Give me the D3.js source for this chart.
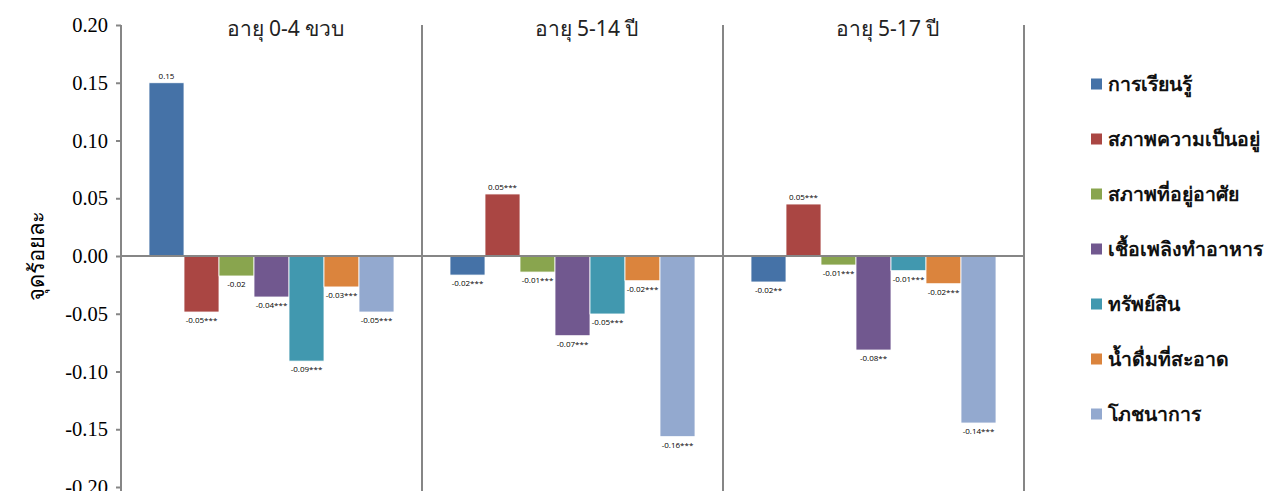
<!DOCTYPE html>
<meta charset="utf-8">
<style>
body { margin: 0; background: #fff; }
.axis path, .axis line { stroke: #868686; stroke-width: 2px; }
.axis text { font-family: "Liberation Serif", serif; font-size: 20.5px; fill: #000; }
.lbl { font-family: "Open Sans", sans-serif; font-size: 8px; fill: #000; }
.ptitle { font-family: "Noto Sans", "DejaVu Sans", sans-serif; font-size: 21px; fill: #222; }
.legend text { font-family: "Noto Sans", "DejaVu Sans", sans-serif; font-size: 19.5px; fill: #111; font-weight: bold; }
</style>
<svg width="1274" height="491"></svg>
<script src="https://d3js.org/d3.v7.min.js"></script>
<script>

var categories = ["การเรียนรู้", "สภาพความเป็นอยู่", "สภาพที่อยู่อาศัย", "เชื้อเพลิงทำอาหาร", "ทรัพย์สิน", "น้ำดื่มที่สะอาด", "โภชนาการ"];
var colors = ["#4572A7", "#AA4643", "#89A54E", "#71588F", "#4198AF", "#DB843D", "#93A9CF"];
var panels = ["อายุ 0-4 ขวบ", "อายุ 5-14 ปี", "อายุ 5-17 ปี"];

var values0to4 = [0.150, -0.0485, -0.0173, -0.0355, -0.091, -0.0268, -0.0485];
var values5to14 = [-0.0165, 0.0537, -0.0139, -0.069, -0.0502, -0.0214, -0.1564];
var values5to17 = [-0.0225, 0.045, -0.0078, -0.0814, -0.0127, -0.024, -0.1446];

var labels0to4 = ["0.15", "-0.05***", "-0.02", "-0.04***", "-0.09***", "-0.03***", "-0.05***"];
var labels5to14 = ["-0.02***", "0.05***", "-0.01***", "-0.07***", "-0.05***", "-0.02***", "-0.16***"];
var labels5to17 = ["-0.02**", "0.05***", "-0.01***", "-0.08**", "-0.01***", "-0.02***", "-0.14***"];

var yTicks = [0.20, 0.15, 0.10, 0.05, 0.00, -0.05, -0.10, -0.15, -0.20];

var allValues = [values0to4, values5to14, values5to17];
var allLabels = [labels0to4, labels5to14, labels5to17];

var svg = d3.select("svg");

var mLeft = 121, mRight = 1024, mTop = 25, mBottom = 487;

var y = d3.scaleLinear().domain([-0.2, 0.2]).range([mBottom, mTop]);

var panelX = d3.scaleBand().domain(panels).range([mLeft, mRight]);

var xBar = d3.scaleBand().domain(categories)
    .range([0, panelX.bandwidth()])
    .paddingInner(0).paddingOuter(0.8);

// y axis
svg.append("g")
    .attr("class", "axis")
    .attr("transform", "translate(" + mLeft + ",0)")
    .call(d3.axisLeft(y).tickValues(yTicks).tickSize(5).tickSizeOuter(0).tickPadding(8)
      .tickFormat(function(d) { return d3.format(".2f")(d).replace("−", "-"); }))
    .call(function(g) { g.select(".domain").attr("d", "M0," + mTop + "V" + (mBottom + 4)); });

// panel separators
svg.append("g").selectAll("line")
    .data(panels)
    .enter().append("line")
      .attr("x1", function(d) { return panelX(d) + panelX.bandwidth(); })
      .attr("x2", function(d) { return panelX(d) + panelX.bandwidth(); })
      .attr("y1", mTop)
      .attr("y2", mBottom + 4)
      .attr("stroke", "#868686")
      .attr("stroke-width", 2);

var pg = svg.append("g").selectAll("g")
    .data(panels)
    .enter().append("g")
      .attr("transform", function(d) { return "translate(" + panelX(d) + ",0)"; });

pg.append("text")
    .attr("class", "ptitle")
    .attr("x", panelX.bandwidth() / 2 + 14)
    .attr("y", 36)
    .attr("text-anchor", "middle")
    .text(function(d) { return d; });

pg.each(function(p, i) {
  var g = d3.select(this);
  var data = allValues[i].map(function(v, j) { return { c: categories[j], v: v, l: allLabels[i][j], col: colors[j] }; });

  g.selectAll("rect")
    .data(data)
    .enter().append("rect")
      .attr("x", function(d) { return xBar(d.c); })
      .attr("width", xBar.bandwidth())
      .attr("y", function(d) { return y(Math.max(0, d.v)); })
      .attr("height", function(d) { return Math.abs(y(d.v) - y(0)); })
      .attr("fill", function(d) { return d.col; })
      .attr("stroke", "#fff")
      .attr("stroke-width", 0.8);

  g.selectAll(".lbl")
    .data(data)
    .enter().append("text")
      .attr("class", "lbl")
      .attr("x", function(d) { return xBar(d.c) + xBar.bandwidth() / 2; })
      .attr("y", function(d) { return d.v >= 0 ? y(d.v) - 4 : y(d.v) + 11; })
      .attr("text-anchor", "middle")
      .text(function(d) { return d.l; });
});

// zero line
svg.append("line")
    .attr("x1", mLeft).attr("x2", mRight)
    .attr("y1", y(0)).attr("y2", y(0))
    .attr("stroke", "#868686").attr("stroke-width", 2);

// y title
svg.append("text")
    .attr("transform", "translate(44," + y(0) + ")rotate(-90)")
    .attr("text-anchor", "middle")
    .style("font-family", "'Noto Sans', 'DejaVu Sans', sans-serif")
    .style("font-size", "22px")
    .text("จุดร้อยละ");

// legend
var lg = svg.append("g").attr("class", "legend")
    .selectAll("g")
    .data(categories)
    .enter().append("g")
      .attr("transform", function(d, i) { return "translate(1091," + (84 + i * 55) + ")"; });

lg.append("rect")
    .attr("x", 0).attr("y", -5.5)
    .attr("width", 11).attr("height", 11)
    .attr("fill", function(d, i) { return colors[i]; });

lg.append("text")
    .attr("x", 17)
    .attr("dy", "0.35em")
    .text(function(d) { return d; });

</script>
